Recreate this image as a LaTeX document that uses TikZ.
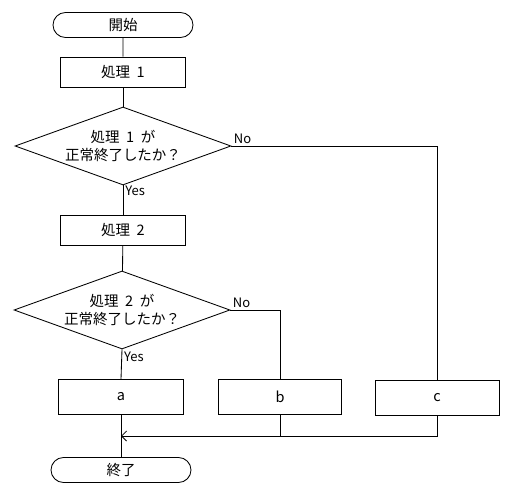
\documentclass[tikz,border=0pt]{standalone}
\usepackage{fontspec}
\setmainfont{Noto Sans CJK JP}
\usetikzlibrary{shapes.geometric,shapes.misc,arrows.meta}
\newcommand{\gap}{\hspace{0.45em}}
\tikzset{
  terminal/.style={draw,rounded rectangle,minimum width=140,minimum height=25,inner sep=0pt},
  procbox/.style={draw,rectangle,minimum width=125,minimum height=30,inner sep=0pt},
  decision/.style={draw,diamond,aspect=2.77,minimum width=216,minimum height=78,inner sep=0pt,align=center},
  lbl/.style={font=\fontsize{13}{15}\selectfont,inner sep=2pt}
}
\begin{document}
\begin{tikzpicture}[x=1pt,y=-1pt,line width=0.85pt,font=\fontsize{14.5}{18.5}\selectfont]
      \useasboundingbox (0,0) rectangle (520,495);
      \node[terminal] (start) at (123,25) {開始};
      \node[procbox] (p1) at (123,72) {処理\gap 1};
      \node[decision] (d1) at (123,146) {処理\gap 1\gap が\\正常終了したか？};
      \node[procbox] (p2) at (123,230) {処理\gap 2};
      \node[decision] (d2) at (122,310) {処理\gap 2\gap が\\正常終了したか？};
      \node[procbox,minimum height=35] (a) at (121,397) {a};
      \node[procbox,minimum width=123,minimum height=35] (b) at (280,397) {b};
      \node[procbox,minimum width=124,minimum height=35] (c) at (437,398) {c};
      \node[terminal] (end) at (121,470) {終了};
      \coordinate (merge) at (121,436);
      \draw (start) -- (p1);
      \draw (p1) -- (d1);
      \draw (d1.south) -- node[lbl,pos=0.2,right] {Yes} (p2.north);
      \draw (p2) -- (d2);
      \draw (d2.south) -- node[lbl,pos=0.25,right] {Yes} (a.north);
      \draw (d1.east) node[lbl,above right] {No} -| (c.north);
      \draw (d2.east) node[lbl,above right] {No} -| (b.north);
      \draw (a.south) -- (end.north);
      \draw[-{Straight Barb[length=5pt,width=10pt]}] (c.south) |- (merge);
      \draw (b.south) -- (b.south |- merge);
    \end{tikzpicture}
\end{document}
